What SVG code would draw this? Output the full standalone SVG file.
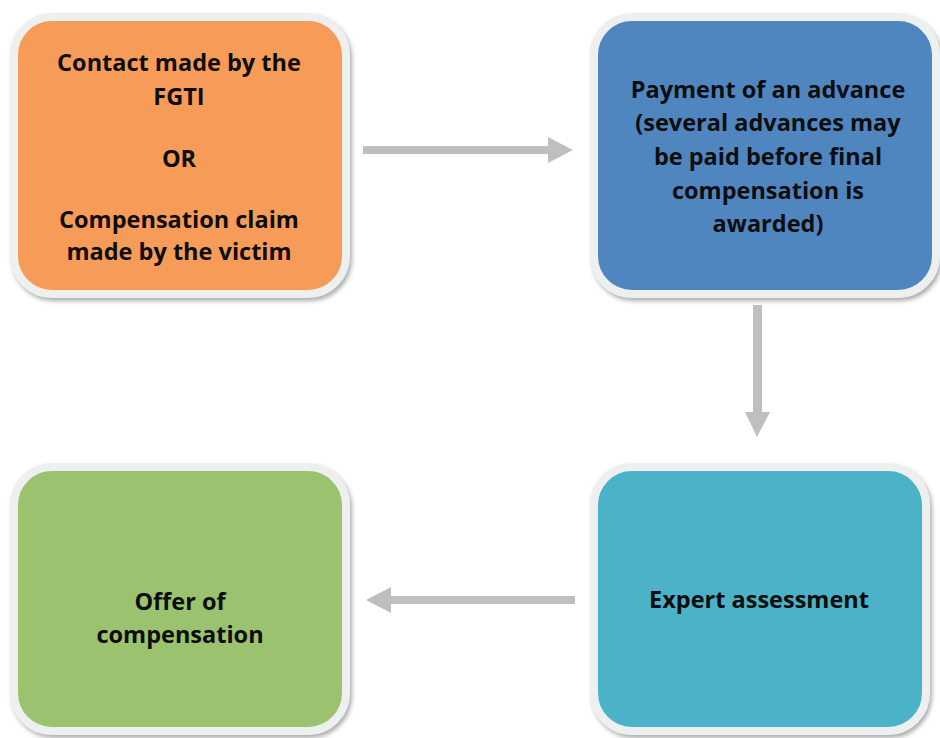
<svg xmlns="http://www.w3.org/2000/svg" width="940" height="738" viewBox="0 0 940 738">
  <style>
    .box { stroke: #EEEFEF; stroke-width: 8; filter: url(#shadow); }
    .label { font-family: "Open Sans", "Liberation Sans", sans-serif; font-weight: bold; font-size: 23.5px; fill: #0d0d0d; text-anchor: middle; }
    .conn { fill: #BEC0C0; }
  </style>
  <defs>
    <filter id="shadow" x="-10%" y="-10%" width="125%" height="125%">
      <feDropShadow dx="2" dy="3" stdDeviation="2" flood-color="#6b6b6b" flood-opacity="0.55"/>
    </filter>
  </defs>
  <rect width="940" height="738" fill="#FFFFFF"/>

  <g id="connectors">
    <!-- right arrow: contact -> advance -->
    <polygon class="conn" points="363,146 548,146 548,137 573,150 548,163 548,154 363,154"/>
    <!-- down arrow: advance -> assessment -->
    <polygon class="conn" points="753,305 762,305 762,412 770,412 757,437 745,412 753,412"/>
    <!-- left arrow: assessment -> offer -->
    <polygon class="conn" points="575,596 391,596 391,587 366,600 391,613 391,604 575,604"/>
  </g>

  <g id="node-contact">
    <rect class="box" x="14" y="17" width="332" height="277" rx="38" fill="#F79B58"/>
    <text class="label" x="179" y="71">Contact made by the</text>
    <text class="label" x="179" y="105">FGTI</text>
    <text class="label" x="179" y="167">OR</text>
    <text class="label" x="179" y="228">Compensation claim</text>
    <text class="label" x="179" y="260">made by the victim</text>
  </g>

  <g id="node-advance">
    <rect class="box" x="594" y="17" width="342" height="277" rx="38" fill="#4F86C0"/>
    <text class="label" x="768" y="98">Payment of an advance</text>
    <text class="label" x="768" y="131">(several advances may</text>
    <text class="label" x="768" y="165">be paid before final</text>
    <text class="label" x="768" y="199">compensation is</text>
    <text class="label" x="768" y="232">awarded)</text>
  </g>

  <g id="node-assessment">
    <rect class="box" x="594" y="467" width="332" height="264" rx="38" fill="#4BB2C8"/>
    <text class="label" x="759" y="608">Expert assessment</text>
  </g>

  <g id="node-offer">
    <rect class="box" x="14" y="467" width="332" height="264" rx="38" fill="#9BC26E"/>
    <text class="label" x="180" y="610">Offer of</text>
    <text class="label" x="180" y="643">compensation</text>
  </g>
</svg>
